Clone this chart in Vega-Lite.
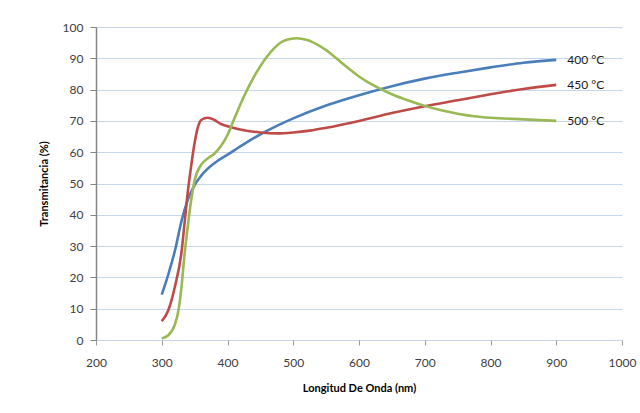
{
  "$schema": "https://vega.github.io/schema/vega-lite/v6.json",
  "autosize": "none",
  "width": 526,
  "height": 313,
  "padding": {"left": 96, "top": 27, "right": 18, "bottom": 73},
  "background": "#ffffff",
  "config": {
    "view": {"stroke": null},
    "font": "Lato",
    "axis": {"labelFont": "Lato", "titleFont": "Lato", "labelColor": "#404040", "titleColor": "#000000", "labelFontSize": 12, "titleFontSize": 11, "titleFontWeight": "bold"}
  },
  "data": {
    "values": [
      {"serie": "400 °C", "nm": 300, "T": 14.5},
      {"serie": "400 °C", "nm": 310, "T": 21},
      {"serie": "400 °C", "nm": 320, "T": 28.5},
      {"serie": "400 °C", "nm": 330, "T": 38},
      {"serie": "400 °C", "nm": 340, "T": 45},
      {"serie": "400 °C", "nm": 350, "T": 49.5},
      {"serie": "400 °C", "nm": 360, "T": 52.5},
      {"serie": "400 °C", "nm": 380, "T": 56.5},
      {"serie": "400 °C", "nm": 400, "T": 59.2},
      {"serie": "400 °C", "nm": 425, "T": 62.6},
      {"serie": "400 °C", "nm": 450, "T": 65.7},
      {"serie": "400 °C", "nm": 475, "T": 68.4},
      {"serie": "400 °C", "nm": 500, "T": 70.8},
      {"serie": "400 °C", "nm": 550, "T": 74.9},
      {"serie": "400 °C", "nm": 600, "T": 78.2},
      {"serie": "400 °C", "nm": 650, "T": 81.1},
      {"serie": "400 °C", "nm": 700, "T": 83.5},
      {"serie": "400 °C", "nm": 750, "T": 85.4},
      {"serie": "400 °C", "nm": 800, "T": 87.1},
      {"serie": "400 °C", "nm": 850, "T": 88.6},
      {"serie": "400 °C", "nm": 900, "T": 89.5},
      {"serie": "450 °C", "nm": 300, "T": 6},
      {"serie": "450 °C", "nm": 310, "T": 9.5},
      {"serie": "450 °C", "nm": 320, "T": 17},
      {"serie": "450 °C", "nm": 330, "T": 28},
      {"serie": "450 °C", "nm": 335, "T": 38},
      {"serie": "450 °C", "nm": 340, "T": 48},
      {"serie": "450 °C", "nm": 345, "T": 56},
      {"serie": "450 °C", "nm": 350, "T": 63},
      {"serie": "450 °C", "nm": 355, "T": 68},
      {"serie": "450 °C", "nm": 360, "T": 70.3},
      {"serie": "450 °C", "nm": 370, "T": 71},
      {"serie": "450 °C", "nm": 380, "T": 70.3},
      {"serie": "450 °C", "nm": 390, "T": 69},
      {"serie": "450 °C", "nm": 400, "T": 68.3},
      {"serie": "450 °C", "nm": 425, "T": 67},
      {"serie": "450 °C", "nm": 450, "T": 66.3},
      {"serie": "450 °C", "nm": 475, "T": 66},
      {"serie": "450 °C", "nm": 500, "T": 66.3},
      {"serie": "450 °C", "nm": 525, "T": 66.9},
      {"serie": "450 °C", "nm": 550, "T": 67.8},
      {"serie": "450 °C", "nm": 600, "T": 70},
      {"serie": "450 °C", "nm": 650, "T": 72.5},
      {"serie": "450 °C", "nm": 700, "T": 74.7},
      {"serie": "450 °C", "nm": 750, "T": 76.6},
      {"serie": "450 °C", "nm": 800, "T": 78.5},
      {"serie": "450 °C", "nm": 850, "T": 80.2},
      {"serie": "450 °C", "nm": 900, "T": 81.5},
      {"serie": "500 °C", "nm": 300, "T": 0.5},
      {"serie": "500 °C", "nm": 310, "T": 1.5},
      {"serie": "500 °C", "nm": 320, "T": 5},
      {"serie": "500 °C", "nm": 325, "T": 9},
      {"serie": "500 °C", "nm": 330, "T": 17},
      {"serie": "500 °C", "nm": 335, "T": 28},
      {"serie": "500 °C", "nm": 340, "T": 37},
      {"serie": "500 °C", "nm": 345, "T": 45},
      {"serie": "500 °C", "nm": 350, "T": 51},
      {"serie": "500 °C", "nm": 360, "T": 56},
      {"serie": "500 °C", "nm": 370, "T": 58},
      {"serie": "500 °C", "nm": 380, "T": 59.5},
      {"serie": "500 °C", "nm": 390, "T": 62},
      {"serie": "500 °C", "nm": 400, "T": 65.5},
      {"serie": "500 °C", "nm": 410, "T": 70.5},
      {"serie": "500 °C", "nm": 420, "T": 75.5},
      {"serie": "500 °C", "nm": 430, "T": 80},
      {"serie": "500 °C", "nm": 440, "T": 84},
      {"serie": "500 °C", "nm": 450, "T": 87.5},
      {"serie": "500 °C", "nm": 460, "T": 90.5},
      {"serie": "500 °C", "nm": 470, "T": 93},
      {"serie": "500 °C", "nm": 480, "T": 94.9},
      {"serie": "500 °C", "nm": 490, "T": 95.9},
      {"serie": "500 °C", "nm": 505, "T": 96.4},
      {"serie": "500 °C", "nm": 520, "T": 95.9},
      {"serie": "500 °C", "nm": 530, "T": 95.1},
      {"serie": "500 °C", "nm": 540, "T": 94},
      {"serie": "500 °C", "nm": 550, "T": 92.6},
      {"serie": "500 °C", "nm": 560, "T": 91},
      {"serie": "500 °C", "nm": 575, "T": 88.3},
      {"serie": "500 °C", "nm": 600, "T": 84.2},
      {"serie": "500 °C", "nm": 625, "T": 81},
      {"serie": "500 °C", "nm": 650, "T": 78.5},
      {"serie": "500 °C", "nm": 675, "T": 76.5},
      {"serie": "500 °C", "nm": 700, "T": 74.8},
      {"serie": "500 °C", "nm": 725, "T": 73.4},
      {"serie": "500 °C", "nm": 750, "T": 72.3},
      {"serie": "500 °C", "nm": 775, "T": 71.5},
      {"serie": "500 °C", "nm": 800, "T": 71},
      {"serie": "500 °C", "nm": 850, "T": 70.5},
      {"serie": "500 °C", "nm": 900, "T": 70}
    ]
  },
  "encoding": {
    "x": {
      "field": "nm", "type": "quantitative",
      "scale": {"domain": [200, 1000], "nice": false, "zero": false},
      "axis": {"title": "Longitud De Onda (nm)", "values": [200, 300, 400, 500, 600, 700, 800, 900, 1000], "format": "d", "grid": false, "domain": false, "tickColor": "#9a9a9a", "tickSize": 5, "labelPadding": 12, "titlePadding": 14, "labelFlush": false}
    },
    "y": {
      "field": "T", "type": "quantitative",
      "scale": {"domain": [0, 100], "nice": false},
      "axis": {"title": "Transmitancia (%)", "values": [0, 10, 20, 30, 40, 50, 60, 70, 80, 90, 100], "grid": true, "gridColor": "#c6d6ec", "gridWidth": 1, "domain": true, "domainColor": "#868686", "domainWidth": 1.5, "tickColor": "#868686", "tickSize": 6, "labelPadding": 7, "titlePadding": 13, "labelFlush": false}
    },
    "color": {
      "field": "serie", "type": "nominal",
      "scale": {"domain": ["400 °C", "450 °C", "500 °C"], "range": ["#4a7ebb", "#be4b48", "#98b954"]},
      "legend": null
    }
  },
  "layer": [
    {"mark": {"type": "line", "strokeWidth": 2.6, "interpolate": "monotone"}},
    {
      "transform": [{"filter": "datum.nm == 900"}],
      "mark": {"type": "text", "align": "left", "baseline": "middle", "dx": 11, "fontSize": 12, "font": "Lato", "color": "#1a1a1a"},
      "encoding": {"text": {"field": "serie"}, "color": {"value": "#1a1a1a"}}
    }
  ]
}
